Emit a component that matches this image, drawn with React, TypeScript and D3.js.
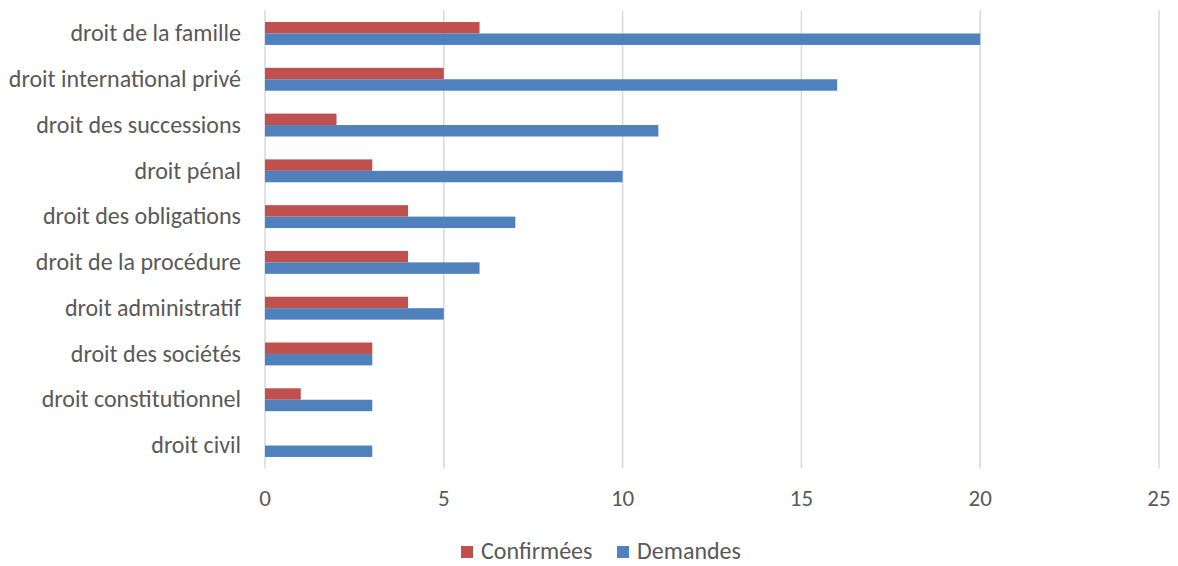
import * as d3 from "d3";

const categories = [
  "droit de la famille",
  "droit international privé",
  "droit des successions",
  "droit pénal",
  "droit des obligations",
  "droit de la procédure",
  "droit administratif",
  "droit des sociétés ",
  "droit constitutionnel",
  "droit civil",
];
const confirmees = [6, 5, 2, 3, 4, 4, 4, 3, 1, 0];
const demandes = [20, 16, 11, 10, 7, 6, 5, 3, 3, 3];
const xTicks = [0, 5, 10, 15, 20, 25];

const series = [
  { name: "Confirmées", values: confirmees, color: "#C0504D" },
  { name: "Demandes", values: demandes, color: "#4F81BD" },
];

const width = 1178;
const height = 566;
const left = 265;
const right = 1159;
const top = 10.6;
const bottom = 468.4;
const font = "Carlito, Calibri, 'Open Sans', sans-serif";
const textColor = "#595959";

export default function App() {
  const x = d3.scaleLinear().domain([0, 25]).range([left, right]);
  const y = d3
    .scaleBand()
    .domain(categories)
    .range([top, bottom])
    .paddingInner(0.5)
    .paddingOuter(0.25);
  const inner = d3
    .scaleBand()
    .domain(series.map((s) => s.name))
    .range([0, y.bandwidth()]);

  return (
    <svg
      width={width}
      height={height}
      style={{ position: "absolute", left: 0, top: 0, fontFamily: font }}
    >
      {xTicks.map((t) => (
        <g key={t}>
          <line
            x1={x(t)}
            x2={x(t)}
            y1={top}
            y2={bottom}
            stroke="#D9D9D9"
            strokeWidth={1.5}
          />
          <text
            x={x(t)}
            y={501}
            textAnchor="middle"
            dominantBaseline="middle"
            fontSize={23}
            fill={textColor}
          >
            {t}
          </text>
        </g>
      ))}
      {categories.map((c, i) => (
        <g key={c}>
          <text
            x={241}
            y={(y(c) ?? 0) + y.bandwidth() / 2 + 2}
            textAnchor="end"
            dominantBaseline="middle"
            fontSize={24}
            fill={textColor}
          >
            {c}
          </text>
          {series.map((s) =>
            s.values[i] > 0 ? (
              <rect
                key={s.name}
                x={x(0)}
                y={(y(c) ?? 0) + (inner(s.name) ?? 0)}
                width={x(s.values[i]) - x(0)}
                height={inner.bandwidth()}
                fill={s.color}
              />
            ) : null
          )}
        </g>
      ))}
      {series.map((s, i) => {
        const lx = i === 0 ? 461 : 617;
        return (
          <g key={s.name}>
            <rect x={lx} y={546} width={12} height={12} fill={s.color} />
            <text
              x={lx + 20}
              y={553}
              dominantBaseline="middle"
              fontSize={24}
              fill={textColor}
            >
              {s.name}
            </text>
          </g>
        );
      })}
    </svg>
  );
}
